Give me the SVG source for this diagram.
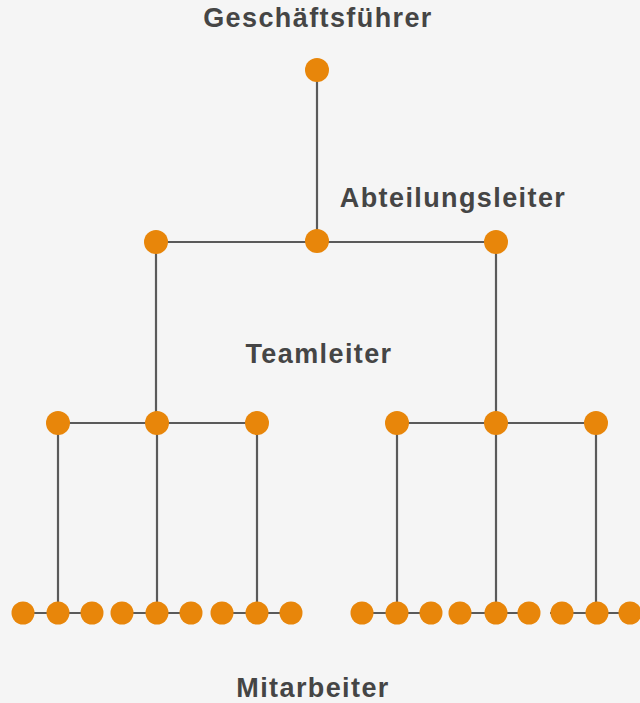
<svg xmlns="http://www.w3.org/2000/svg" width="640" height="703" viewBox="0 0 640 703">
<style>
.bg{fill:#f5f5f5}
.n{fill:#e8860a}
.c line{stroke:#5a5a5a;stroke-width:2.2}
.t{font-family:"Liberation Sans",Arial,sans-serif;font-weight:bold;font-size:27px;letter-spacing:1.4px;fill:#454545;text-anchor:middle}
</style>
<rect class="bg" x="0" y="0" width="640" height="703"/>
<g class="c" id="connectors">
<line x1="317" y1="70" x2="317" y2="241"/>
<line x1="156" y1="242" x2="496" y2="242"/>
<line x1="156" y1="242" x2="156" y2="423"/>
<line x1="496" y1="242" x2="496" y2="423"/>
<line x1="58" y1="423" x2="257" y2="423"/>
<line x1="397" y1="423" x2="595" y2="423"/>
<line x1="58" y1="423" x2="58" y2="613"/>
<line x1="157" y1="423" x2="157" y2="613"/>
<line x1="257" y1="423" x2="257" y2="613"/>
<line x1="397" y1="423" x2="397" y2="613"/>
<line x1="496" y1="423" x2="496" y2="613"/>
<line x1="596" y1="423" x2="596" y2="613"/>
<line x1="12" y1="613" x2="102" y2="613"/>
<line x1="111" y1="613" x2="201" y2="613"/>
<line x1="211" y1="613" x2="301" y2="613"/>
<line x1="351" y1="613" x2="441" y2="613"/>
<line x1="449" y1="613" x2="539" y2="613"/>
<line x1="550" y1="613" x2="640" y2="613"/>
</g>
<text class="t" x="318" y="27">Geschäftsführer</text>
<text class="t" x="453" y="207">Abteilungsleiter</text>
<text class="t" x="319" y="363">Teamleiter</text>
<text class="t" x="313" y="697">Mitarbeiter</text>
<g id="ceo"><circle class="n" cx="317" cy="70" r="12"/></g>
<g id="abt1"><circle class="n" cx="156" cy="242" r="12"/></g>
<g id="abt2"><circle class="n" cx="317" cy="241" r="12"/></g>
<g id="abt3"><circle class="n" cx="496" cy="242" r="12"/></g>
<g id="tl1"><circle class="n" cx="58" cy="423" r="12"/></g>
<g id="tl2"><circle class="n" cx="157" cy="423" r="12"/></g>
<g id="tl3"><circle class="n" cx="257" cy="423" r="12"/></g>
<g id="tl4"><circle class="n" cx="397" cy="423" r="12"/></g>
<g id="tl5"><circle class="n" cx="496" cy="423" r="12"/></g>
<g id="tl6"><circle class="n" cx="596" cy="423" r="12"/></g>
<g id="ma1"><circle class="n" cx="23" cy="613" r="11.5"/></g>
<g id="ma2"><circle class="n" cx="58" cy="613" r="11.5"/></g>
<g id="ma3"><circle class="n" cx="92" cy="613" r="11.5"/></g>
<g id="ma4"><circle class="n" cx="122" cy="613" r="11.5"/></g>
<g id="ma5"><circle class="n" cx="157" cy="613" r="11.5"/></g>
<g id="ma6"><circle class="n" cx="191" cy="613" r="11.5"/></g>
<g id="ma7"><circle class="n" cx="222" cy="613" r="11.5"/></g>
<g id="ma8"><circle class="n" cx="257" cy="613" r="11.5"/></g>
<g id="ma9"><circle class="n" cx="291" cy="613" r="11.5"/></g>
<g id="ma10"><circle class="n" cx="362" cy="613" r="11.5"/></g>
<g id="ma11"><circle class="n" cx="397" cy="613" r="11.5"/></g>
<g id="ma12"><circle class="n" cx="431" cy="613" r="11.5"/></g>
<g id="ma13"><circle class="n" cx="460" cy="613" r="11.5"/></g>
<g id="ma14"><circle class="n" cx="496" cy="613" r="11.5"/></g>
<g id="ma15"><circle class="n" cx="529" cy="613" r="11.5"/></g>
<g id="ma16"><circle class="n" cx="562" cy="613" r="11.5"/></g>
<g id="ma17"><circle class="n" cx="597" cy="613" r="11.5"/></g>
<g id="ma18"><circle class="n" cx="630" cy="613" r="11.5"/></g>
</svg>
